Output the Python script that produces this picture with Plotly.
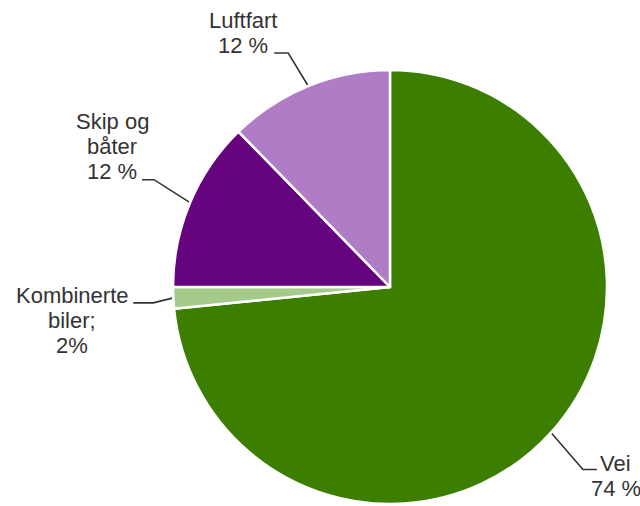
import math
import plotly.graph_objects as go

# ---- data ----
categories = ["Vei", "Kombinerte biler", "Skip og båter", "Luftfart"]
values = [73.4, 1.6, 12.7, 12.3]
label_lines = [["Vei", "74 %"], ["Kombinerte", "biler;", "2%"], ["Skip og", "båter", "12 %"], ["Luftfart", "12 %"]]
colors = ["#3b7e00", "#a5cb8c", "#66037f", "#b07cc5"]

# ---- layout constants (pixels) ----
W, H = 640, 506
CX, CY, R = 390, 287, 217
FS = 22
LINE_GAP = 25
# per-label leader geometry: elbow offset from anchor, horizontal tail,
# text centre-x offset and first baseline offset from tail end
elbow = [(32, 37), (-20, 5), (-36, -23), (-20, -33)]
tail = [14, -20, -12, -14]
text_off = [(19, 2), (-61, 0), (-30, -51), (-31, -25)]

fig = go.Figure()
fig.add_trace(go.Pie(
    labels=categories, values=values, sort=False, direction="clockwise", rotation=0,
    marker=dict(colors=colors, line=dict(color="white", width=2.5)),
    textinfo="none", hoverinfo="label+percent", showlegend=False,
    domain=dict(x=[(CX - R) / W, (CX + R) / W], y=[(H - CY - R) / H, (H - CY + R) / H]),
))

total = sum(values)
cum = 0.0
annotations = []
for i, v in enumerate(values):
    mid = (cum + v / 2) / total * 2 * math.pi
    cum += v
    ax = CX + R * math.sin(mid)
    ay = CY - R * math.cos(mid)
    ex, ey = ax + elbow[i][0], ay + elbow[i][1]
    tx, ty = ex + tail[i], ey
    fig.add_trace(go.Scatter(x=[ax, ex, tx], y=[ay, ey, ty], mode="lines",
                             line=dict(color="#333333", width=1.6),
                             hoverinfo="skip", showlegend=False))
    for k, line in enumerate(label_lines[i]):
        baseline = ty + text_off[i][1] + k * LINE_GAP
        annotations.append(dict(x=tx + text_off[i][0], y=baseline - 0.35 * FS, xref="x", yref="y",
                                text=line, showarrow=False, align="center",
                                xanchor="center", yanchor="middle",
                                font=dict(family="Liberation Sans, Arial", size=FS, color="#333333")))

fig.update_layout(
    width=W, height=H, margin=dict(l=0, r=0, t=0, b=0),
    paper_bgcolor="white", plot_bgcolor="rgba(0,0,0,0)",
    xaxis=dict(range=[0, W], visible=False, fixedrange=True),
    yaxis=dict(range=[H, 0], visible=False, fixedrange=True),
    annotations=annotations,
)
fig.write_html("out.html", config={"displayModeBar": False},
               post_script="document.body.style.margin='0';document.body.style.overflow='hidden';")
